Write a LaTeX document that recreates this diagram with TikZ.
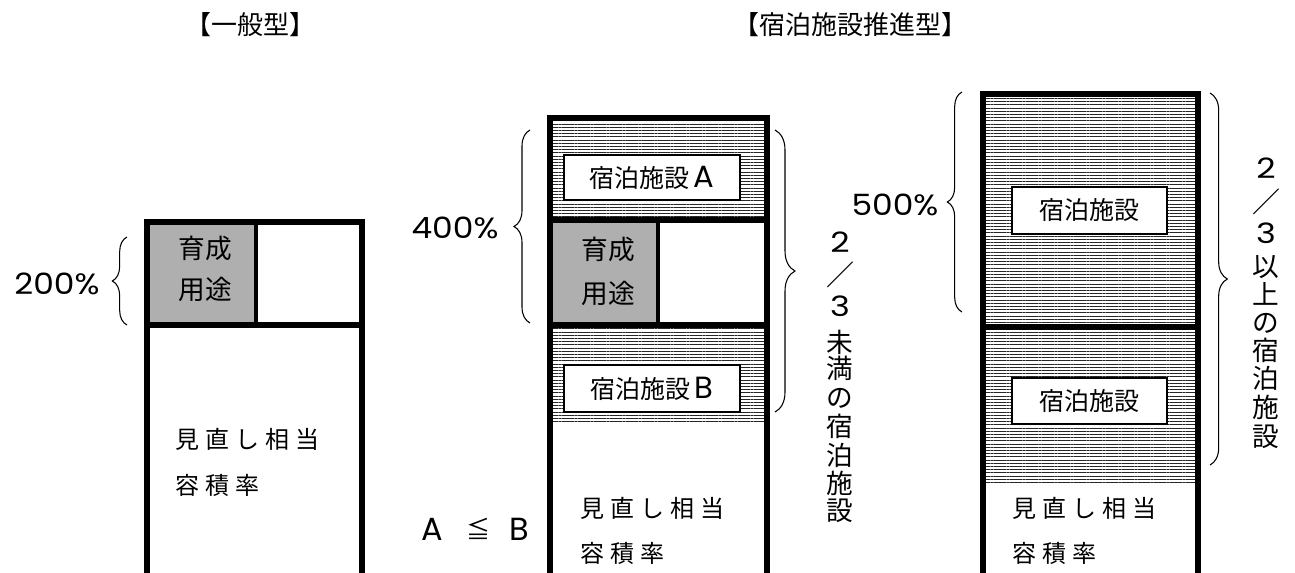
\documentclass[tikz,border=0pt]{standalone}
\usepackage{fontspec}
\usepackage{graphicx}
\setmainfont{Noto Sans CJK JP}
\newfontfamily\popfont{Poppins}
\usetikzlibrary{patterns,patterns.meta,decorations.pathreplacing}
\newcommand\geo[1]{\popfont\fontsize{#1}{#1}\selectfont}
\newcommand\jp[1]{\fontsize{#1}{#1}\selectfont}
\newcommand\pct[1]{\scalebox{1.12}[1]{\geo{22pt}#1\%}}
\newcommand\wA{見\kern4.5pt 直\kern4.5pt し\kern4.5pt 相\kern4.5pt 当}
\newcommand\wB{容\kern4.5pt 積\kern4.5pt 率}
\begin{document}
\begin{tikzpicture}[x=0.75pt,y=-0.75pt,
  every node/.style={inner sep=0pt,outer sep=0pt},
  frame/.style={line width=3.8pt,line join=miter,line cap=rect},
  divline/.style={line width=3pt},
  hatch/.style={pattern={Lines[angle=0,distance=2.4pt,line width=0.6pt]},pattern color=black!85},
  greyfill/.style={fill=black!28,postaction={pattern={Dots[distance=1.5pt,radius=0.35pt]},pattern color=black!70}},
  ibox/.style={draw,fill=white,line width=1.6pt,font=\jp{18.75pt}},
  br/.style={decorate,line width=0.8pt},
  body/.style={font=\jp{18pt},anchor=west},
  ttl/.style={font=\jp{19.5pt}},
  vt/.style={font=\jp{20pt},text height=16.6pt,text depth=1.6pt},
  vsl/.style={font=\jp{21pt},text height=16pt,text depth=1pt},
  vdig/.style={font=\geo{21pt},text height=14.7pt,text depth=0pt}]
\useasboundingbox (0,0) rectangle (1295,572);

% titles
\node[ttl] (title1) at (250,25) {【一般型】};
\node[ttl] (title2) at (850,25) {【宿泊施設推進型】};

% ---------- column 1 ----------
\path[greyfill] (147,222) rectangle (256,325);
\draw[frame] (147,580) |- (362,222) -- (362,580);
\draw[frame] (147,325) -- (362,325);
\draw[divline] (256,222) -- (256,325);
\node[font=\jp{20pt}] (ik1) at (205,248) {育成};
\node[font=\jp{20pt}] (iy1) at (205,289) {用途};
\node[body] (m1a) at (175,439) {\wA};
\node[body] (m1b) at (175,485) {\wB};
\node (p200) at (57,284) {\pct{200}};
\draw[br,decoration={brace,amplitude=11pt}] (127,325) -- (127,237);

% ---------- column 2 ----------
\path[hatch] (550,118) rectangle (767,220);
\path[hatch] (550,325) rectangle (767,422);
\path[greyfill] (550,220) rectangle (658,325);
\draw[frame] (550,580) |- (767,118) -- (767,580);
\draw[frame] (550,220) -- (767,220);
\draw[frame] (550,325) -- (767,325);
\draw[divline] (658,220) -- (658,325);
\node[ibox,minimum width=132pt,minimum height=33.75pt] (boxA) at (652,177.5) {宿泊施設\kern3pt{\geo{23pt}A}};
\node[ibox,minimum width=132pt,minimum height=35.25pt] (boxB) at (652,388.5) {宿泊施設\kern3pt{\geo{23pt}B}};
\node[font=\jp{20pt}] (ik2) at (608,249) {育成};
\node[font=\jp{20pt}] (iy2) at (608,293) {用途};
\node[body] (m2a) at (580,508) {\wA};
\node[body] (m2b) at (580,553) {\wB};
\node (p400) at (455,228) {\pct{400}};
\draw[br,decoration={brace,amplitude=12pt}] (530,323) -- (530,130);
\draw[br,decoration={brace,amplitude=15pt}] (775,130) -- (775,412);
\node (ab1) at (432,529) {\geo{24pt}A};
\node[font=\jp{18pt}] (ab2) at (478,529) {≦};
\node (ab3) at (519,529) {\geo{24pt}B};
\node[vdig] (va1) at (840,243) {\scalebox{1.2}[1]{2}};
\node[vsl] (va2) at (840,275) {／};
\node[vdig] (va3) at (840,307) {\scalebox{1.2}[1]{3}};
\foreach \c/\yy/\i in {未/342/4,満/368/5,の/397/6,宿/426/7,泊/455/8,施/483/9,設/510/10}
  \node[vt] (va\i) at (840,\yy) {\c};

% ---------- column 3 ----------
\path[hatch] (983,94) rectangle (1198,483);
\draw[frame] (983,580) |- (1198,94) -- (1198,580);
\draw[frame] (983,327) -- (1198,327);
\node[ibox,minimum width=116.25pt,minimum height=35.25pt] (boxC) at (1089.5,210.5) {宿泊施設};
\node[ibox,minimum width=116.25pt,minimum height=34.5pt] (boxD) at (1089.5,401) {宿泊施設};
\node[body] (m3a) at (1012,508) {\wA};
\node[body] (m3b) at (1012,553) {\wB};
\node (p500) at (895,205) {\pct{500}};
\draw[br,decoration={brace,amplitude=11pt}] (962,312) -- (962,92);
\draw[br,decoration={brace,amplitude=13pt}] (1210,93) -- (1210,465);
\node[vdig] (vb1) at (1266,169) {\scalebox{1.2}[1]{2}};
\node[vsl] (vb2) at (1266,202) {／};
\node[vdig] (vb3) at (1266,234) {\scalebox{1.2}[1]{3}};
\foreach \c/\yy/\i in {以/266/4,上/294/5,の/322/6,宿/350/7,泊/378/8,施/407/9,設/436/10}
  \node[vt] (vb\i) at (1266,\yy) {\c};
\end{tikzpicture}
\end{document}
